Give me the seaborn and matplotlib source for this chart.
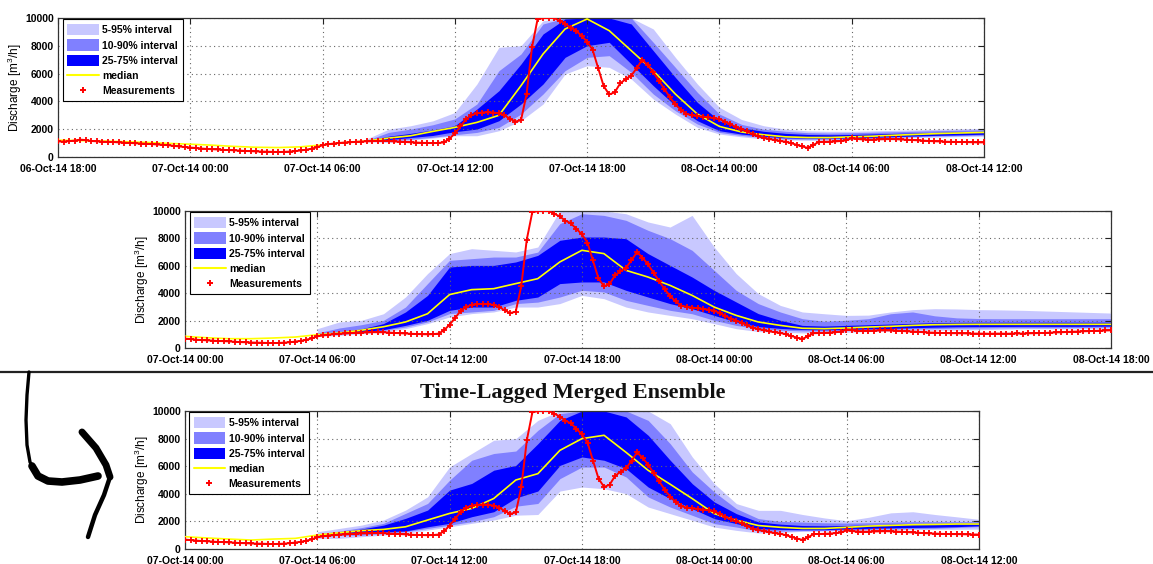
import numpy as np
import pandas as pd
import matplotlib
matplotlib.use("Agg")
import matplotlib.pyplot as plt
import matplotlib.dates as mdates
from matplotlib.patches import Patch
from matplotlib.lines import Line2D
import seaborn as sns

sns.set_style("white")
plt.rcParams['font.family'] = ['Liberation Sans', 'DejaVu Sans']
plt.rcParams['font.weight'] = 'bold'
plt.rcParams['mathtext.default'] = 'regular'
for k in ['text.color', 'axes.labelcolor', 'xtick.color', 'ytick.color']:
    plt.rcParams[k] = 'black'

# measured discharge [m3/h], every 15 min from 06-Oct-14 18:00
meas_start = "2014-10-06 18:00"
meas = [1120, 1110, 1140, 1180, 1250, 1220, 1150, 1130, 1100, 1090, 1080, 1050,
        1030, 1010, 990, 970, 950, 930, 900, 880, 850, 800, 760, 720,
        680, 650, 610, 580, 560, 540, 510, 500, 480, 460, 430, 420,
        400, 390, 380, 370, 360, 370, 390, 420, 470, 520, 600, 700,
        850, 920, 970, 1010, 1040, 1060, 1090, 1110, 1130, 1140, 1160, 1150,
        1150, 1120, 1100, 1080, 1060, 1040, 1020, 1010, 1000, 1010, 1050, 1300,
        1700, 2200, 2700, 3000, 3150, 3200, 3220, 3200, 3150, 3000, 2750, 2550,
        2650, 4500, 7900, 9900, 10000, 10000, 10000, 9800, 9600, 9300, 9100, 8700,
        8300, 7700, 6400, 5100, 4500, 4650, 5300, 5600, 5850, 6400, 7000, 6600,
        6100, 5500, 4900, 4300, 3800, 3400, 3100, 3000, 2950, 2900, 2850, 2800,
        2730, 2550, 2350, 2150, 2000, 1850, 1650, 1480, 1380, 1300, 1220, 1150,
        1100, 1000, 880, 760, 660, 850, 1080, 1090, 1100, 1120, 1150, 1200,
        1350, 1300, 1260, 1250, 1250, 1270, 1280, 1290, 1280, 1260, 1240, 1220,
        1200, 1180, 1150, 1130, 1120, 1100, 1090, 1080, 1080, 1070, 1060, 1050,
        1050, 1050, 1040, 1050, 1050, 1040, 1050, 1060, 1050, 1070, 1080, 1090,
        1100, 1120, 1140, 1150, 1170, 1190, 1200, 1220, 1230, 1250, 1260, 1280,
        1290]

# panel 1: ensemble issued 06-Oct-14 18:00 (hourly)
p1_start = "2014-10-06 18:00"
p1_med = [1210, 1180, 1150, 1100, 1050, 980, 920, 850, 760, 700,
          680, 730, 870, 1040, 1150, 1360, 1530, 1840, 2130, 2490,
          3000, 5130, 7410, 9210, 9930, 9090, 7650, 6210, 4530, 3090,
          2200, 1800, 1600, 1450, 1400, 1400, 1450, 1500, 1570, 1630,
          1690, 1730, 1770]
p1_band_start = "2014-10-07 08:00"
p1_q95 = [1300, 2000, 2250, 2600, 3200, 5250, 7890, 8010, 9800, 10000, 10000, 10000, 10000, 9210,
          7170, 5250, 3570, 2700, 2250, 2000, 1880, 1850, 1850, 1880, 1920, 1950, 2000, 2030, 2060]
p1_q90 = [1200, 1770, 2010, 2320, 2740, 3810, 6210, 7410, 9570, 10000, 10000, 10000, 10000, 8250,
          6450, 4650, 3090, 2350, 2000, 1850, 1750, 1720, 1750, 1780, 1820, 1860, 1900, 1930, 1960]
p1_q75 = [1160, 1500, 1700, 1950, 2250, 3450, 4770, 6690, 8850, 9930, 10000, 10000, 9570, 7650,
          5730, 3930, 2610, 2100, 1850, 1700, 1620, 1600, 1620, 1660, 1700, 1740, 1780, 1820, 1850]
p1_q25 = [1130, 1250, 1400, 1550, 1820, 2010, 2610, 3810, 5250, 7170, 8010, 8250, 6690, 5130,
          3690, 2610, 1890, 1650, 1500, 1380, 1350, 1350, 1380, 1420, 1470, 1520, 1560, 1600, 1640]
p1_q10 = [1120, 1150, 1280, 1420, 1600, 1770, 2130, 3090, 4530, 6210, 7170, 7290, 6090, 4530,
          3330, 2370, 1770, 1550, 1400, 1300, 1280, 1280, 1320, 1370, 1420, 1470, 1510, 1540, 1570]
p1_q05 = [1100, 1040, 1210, 1360, 1530, 1530, 1890, 2610, 3810, 5970, 6570, 6450, 5610, 4170,
          3090, 2130, 1650, 1450, 1300, 1230, 1200, 1200, 1250, 1300, 1350, 1400, 1440, 1470, 1500]

# panel 2: ensemble issued 07-Oct-14 00:00
p2_start = "2014-10-07 00:00"
p2_med = [850, 750, 680, 680, 730, 800, 970, 1090, 1300, 1550,
          1900, 2500, 3900, 4260, 4330, 4700, 5060, 6280, 7130, 6890,
          5670, 5180, 4570, 3840, 2990, 2380, 1900, 1650, 1440, 1410,
          1460, 1530, 1580, 1650, 1700, 1720, 1730, 1730, 1730, 1730,
          1730, 1730, 1730]
p2_band_start = "2014-10-07 06:00"
p2_q95 = [1410, 1900, 2020, 2500, 3720, 5430, 6890, 7250, 7130, 7010, 7370, 10000, 10000, 10000,
          9800, 9200, 8830, 9680, 7370, 5430, 3970, 3110, 2630, 2500, 2380, 2400, 2630, 2800,
          2870, 2850, 2800, 2780, 2750, 2700, 2650, 2600, 2550]
p2_q90 = [1100, 1460, 1700, 2020, 2990, 4700, 6400, 6520, 6640, 6640, 7000, 9080, 9800, 9680,
          9320, 8590, 7980, 7130, 5670, 4210, 3240, 2630, 2140, 1950, 2020, 2140, 2500, 2630,
          2350, 2200, 2150, 2140, 2140, 2140, 2140, 2140, 2140]
p2_q75 = [1000, 1150, 1400, 1780, 2630, 3840, 5910, 6030, 6030, 6280, 6760, 7860, 8100, 8100,
          7980, 6890, 6030, 5180, 4210, 3360, 2510, 2020, 1650, 1600, 1650, 1700, 1750, 1800,
          1850, 1870, 1880, 1880, 1880, 1880, 1880, 1880, 1880]
p2_q25 = [950, 1060, 1200, 1340, 1650, 2020, 2750, 2990, 2990, 3480, 3720, 4700, 4820, 4820,
          4210, 3720, 3240, 2870, 2380, 1900, 1560, 1430, 1350, 1330, 1350, 1400, 1430, 1480,
          1520, 1550, 1560, 1570, 1580, 1580, 1580, 1590, 1600]
p2_q10 = [920, 1000, 1120, 1290, 1530, 1900, 2510, 2630, 2750, 3240, 3350, 3720, 4210, 4090,
          3480, 3110, 2750, 2500, 2020, 1650, 1400, 1300, 1250, 1250, 1270, 1320, 1340, 1400,
          1420, 1450, 1460, 1480, 1480, 1480, 1480, 1500, 1530]
p2_q05 = [850, 920, 1045, 1170, 1410, 1780, 2260, 2510, 2630, 2990, 2990, 3240, 3840, 3600,
          2990, 2630, 2380, 2140, 1780, 1410, 1200, 1150, 1100, 1100, 1150, 1200, 1240, 1290,
          1290, 1310, 1340, 1370, 1410, 1410, 1410, 1410, 1410]

# panel 3: time-lagged merged ensemble
p3_start = "2014-10-07 00:00"
p3_med = [890, 800, 720, 650, 720, 770, 1010, 1180, 1330, 1420,
          1610, 2100, 2580, 2940, 3660, 5000, 5460, 7150, 8000, 8240,
          7000, 5700, 4690, 3650, 2560, 2080, 1700, 1570, 1490, 1490,
          1570, 1660, 1710, 1760, 1780, 1810, 1810]
p3_band_start = "2014-10-07 06:00"
p3_q95 = [1250, 1490, 1730, 2100, 2820, 3780, 5950, 6920, 7880, 8000, 9320, 10000, 10000, 10000,
          10000, 10000, 9080, 6670, 4730, 3290, 2800, 2800, 2500, 2250, 2050, 2300, 2620, 2700,
          2500, 2330, 2150]
p3_q90 = [1100, 1300, 1550, 1860, 2580, 3300, 4990, 6430, 6920, 7100, 8600, 9810, 10000, 10000,
          10000, 9320, 7630, 5580, 4130, 2920, 2200, 2000, 1950, 1900, 1880, 1900, 1950, 1980,
          1980, 1980, 1980]
p3_q75 = [1010, 1200, 1450, 1730, 2220, 2820, 4270, 4750, 5710, 6060, 7630, 9320, 10000, 10000,
          9570, 8240, 6430, 4730, 3410, 2560, 1960, 1800, 1700, 1680, 1700, 1750, 1800, 1830,
          1850, 1870, 1900]
p3_q25 = [1000, 1150, 1200, 1250, 1300, 1610, 1860, 2340, 2700, 3700, 4200, 6060, 6670, 6430,
          5820, 4490, 3650, 2920, 2200, 1840, 1470, 1420, 1400, 1400, 1450, 1500, 1530, 1560,
          1580, 1620, 1680]
p3_q10 = [900, 1000, 1000, 1130, 1250, 1490, 1730, 1980, 2340, 3100, 3300, 5100, 5940, 5940,
          5220, 3770, 3040, 2440, 1840, 1590, 1300, 1300, 1330, 1340, 1380, 1420, 1450, 1480,
          1500, 1560, 1620]
p3_q05 = [770, 770, 890, 1010, 1130, 1370, 1610, 1860, 2100, 2450, 2500, 4200, 4490, 4370,
          4010, 3040, 2560, 2080, 1590, 1350, 1160, 1200, 1280, 1300, 1330, 1360, 1380, 1400,
          1420, 1430, 1440]

y_ticks = [0, 2000, 4000, 6000, 8000, 10000]
band_labels = ["5-95% interval", "10-90% interval", "25-75% interval"]
c_light, c_mid, c_dark = "#c8c8ff", "#8080ff", "#0000ff"


def draw_panel(ax, start, med, band_start, q05, q10, q25, q75, q90, q95, x0, x1):
    t_med = pd.date_range(start, periods=len(med), freq="h")
    t_band = pd.date_range(band_start, periods=len(q05), freq="h")
    t_meas = pd.date_range(meas_start, periods=len(meas), freq="15min")

    ax.fill_between(t_band, q05, q95, color=c_light, lw=0, zorder=1)
    ax.fill_between(t_band, q10, q90, color=c_mid, lw=0, zorder=1)
    ax.fill_between(t_band, q25, q75, color=c_dark, lw=0, zorder=1)
    sns.lineplot(x=t_med, y=med, color="#ffff00", lw=1.2, ax=ax, zorder=3)
    # measurements: thin trace plus cross markers
    sns.lineplot(x=t_meas, y=meas, color="#ff0000", lw=1.4, ax=ax, zorder=4)
    sns.scatterplot(x=t_meas, y=meas, marker="+", color="#ff0000", s=16,
                    linewidth=1.3, ax=ax, zorder=4, legend=False)

    ax.set_xlim(pd.Timestamp(x0), pd.Timestamp(x1))
    ax.set_ylim(0, 10000)
    ax.set_yticks(y_ticks)
    ax.xaxis.set_major_locator(mdates.HourLocator(byhour=[0, 6, 12, 18]))
    ax.xaxis.set_major_formatter(mdates.DateFormatter("%d-%b-%y %H:%M"))
    ax.set_axisbelow("line")
    ax.grid(True, ls=(0, (1, 3)), color="#666666", lw=0.8)
    ax.tick_params(labelsize=7.5, direction="in", length=4, top=True, right=True,
                   color="#222222")
    ax.tick_params(axis="x", pad=5)
    ax.tick_params(axis="y", pad=3)
    for s in ax.spines.values():
        s.set_color("#333333")
        s.set_linewidth(0.9)
    ax.set_xlabel("")
    ax.set_ylabel("Discharge [m$^3$/h]", fontsize=8.5, labelpad=1)

    handles = [Patch(color=c_light, lw=0), Patch(color=c_mid, lw=0), Patch(color=c_dark, lw=0),
               Line2D([], [], color="#ffff00", lw=1.5),
               Line2D([], [], color="#ff0000", marker="+", ls="None", ms=4, mew=1.4)]
    labels = band_labels + ["median", "Measurements"]
    leg = ax.legend(handles, labels, loc="upper left", bbox_to_anchor=(0.005, 0.99),
                    borderaxespad=0, fontsize=7.5, handlelength=3.0, handleheight=1.3,
                    labelspacing=0.38, handletextpad=0.35, borderpad=0.45,
                    fancybox=False, framealpha=1, edgecolor="black")
    leg.get_frame().set_linewidth(0.8)


fig = plt.figure(figsize=(11.53, 5.64), dpi=100)
W, H = 1153, 564
ax1 = fig.add_axes([58 / W, (H - 157) / H, 926 / W, 139 / H])
ax2 = fig.add_axes([185 / W, (H - 348) / H, 926 / W, 137 / H])
ax3 = fig.add_axes([185 / W, (H - 549) / H, 794 / W, 138 / H])

draw_panel(ax1, p1_start, p1_med, p1_band_start, p1_q05, p1_q10, p1_q25, p1_q75, p1_q90, p1_q95,
           "2014-10-06 18:00", "2014-10-08 12:00")
draw_panel(ax2, p2_start, p2_med, p2_band_start, p2_q05, p2_q10, p2_q25, p2_q75, p2_q90, p2_q95,
           "2014-10-07 00:00", "2014-10-08 18:00")
draw_panel(ax3, p3_start, p3_med, p3_band_start, p3_q05, p3_q10, p3_q25, p3_q75, p3_q90, p3_q95,
           "2014-10-07 00:00", "2014-10-08 12:00")

# overlay in pixel units for separator, heading and the hand-drawn arrow
ov = fig.add_axes([0, 0, 1, 1])
ov.set_xlim(0, W)
ov.set_ylim(H, 0)
ov.axis("off")
ov.patch.set_visible(False)
ov.plot([0, W], [372, 372], color="#222222", lw=1.6)
ov.text(573, 393, "Time-Lagged Merged Ensemble", ha="center", va="center",
        fontsize=16, fontweight="bold", family=["Liberation Serif", "DejaVu Serif"], color="#111111")
ov.plot([29, 27, 26, 27, 30, 36], [372, 395, 420, 445, 462, 474], color="black", lw=2.4,
        solid_capstyle="round")
ov.plot([32, 38, 48, 62, 80, 98], [466, 476, 481, 482, 480, 476], color="black", lw=5.5,
        solid_capstyle="round", solid_joinstyle="round")
ov.plot([82, 96, 106, 110], [432, 448, 465, 477], color="black", lw=5, solid_capstyle="round")
ov.plot([110, 104, 95, 88], [477, 495, 515, 537], color="black", lw=3.2, solid_capstyle="round")

fig.savefig("out.png", dpi=100)
